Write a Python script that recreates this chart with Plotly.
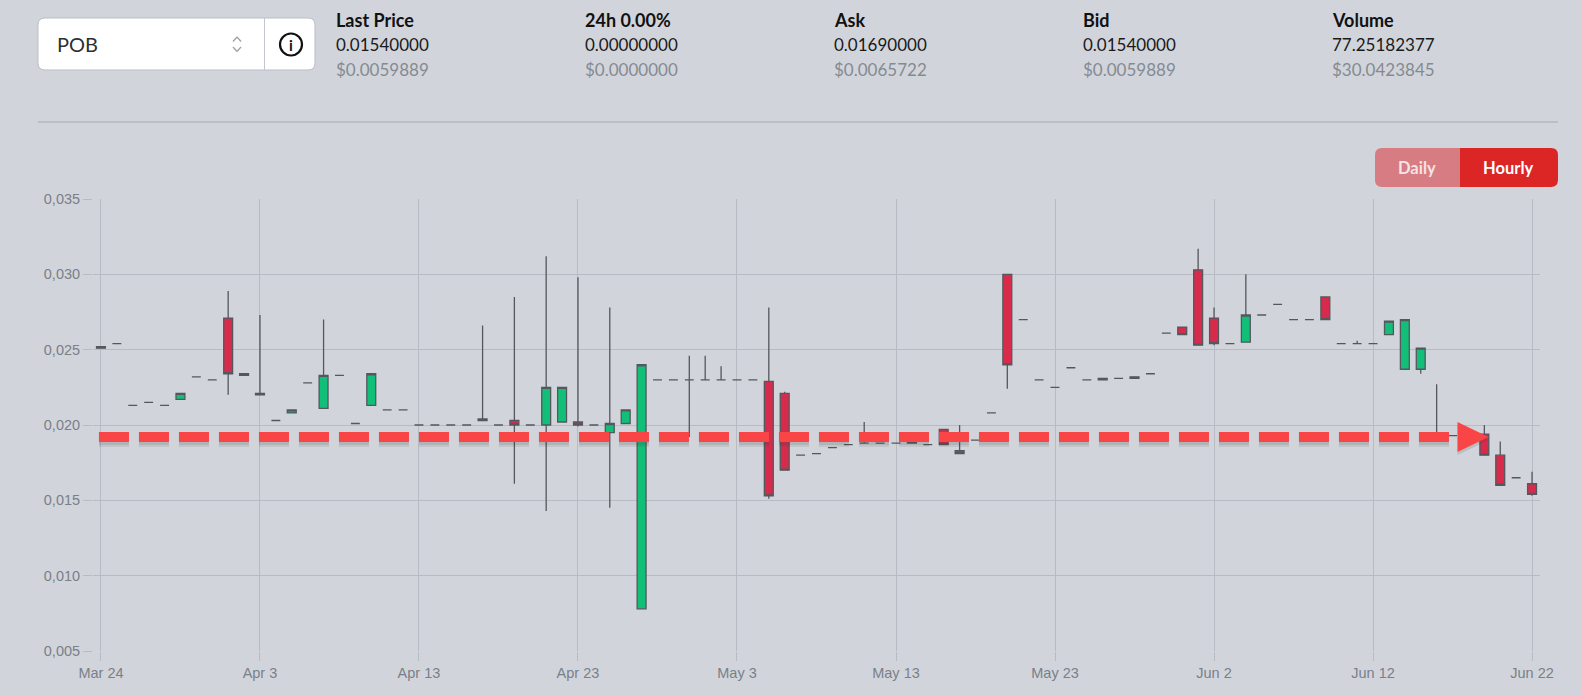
import pandas as pd
import plotly.graph_objects as go

# Daily candles, Mar 24 -> Jun 22
start_day = "2021-03-24"
opens = [
    0.0252, 0.0254, 0.0213, 0.0215, 0.0213, 0.0217, 0.0232, 0.0230, 0.0271, 0.0234,
    0.0221, 0.0203, 0.0208, 0.0228, 0.0211, 0.0233, 0.0201, 0.0213, 0.0210, 0.0210,
    0.0200, 0.0200, 0.0200, 0.0200, 0.0203, 0.0200, 0.0203, 0.0200, 0.0200, 0.0202,
    0.0202, 0.0200, 0.0195, 0.0201, 0.0078, 0.0230, 0.0230, 0.0230, 0.0230, 0.0230,
    0.0230, 0.0230, 0.0229, 0.0221, 0.0180, 0.0181, 0.0185, 0.0187, 0.0188, 0.0188,
    0.0188, 0.0188, 0.0187, 0.0197, 0.0183, 0.0190, 0.0208, 0.0300, 0.0270, 0.0230,
    0.0225, 0.0238, 0.0230, 0.0230, 0.0231, 0.0231, 0.0234, 0.0261, 0.0265, 0.0303,
    0.0271, 0.0254, 0.0255, 0.0273, 0.0280, 0.0270, 0.0270, 0.0285, 0.0254, 0.0254,
    0.0254, 0.0260, 0.0237, 0.0237, 0.0195, 0.0193, 0.0193, 0.0194, 0.0180, 0.0165,
    0.0161,
]
highs = [
    0.0252, 0.0254, 0.0213, 0.0215, 0.0213, 0.0221, 0.0232, 0.0230, 0.0289, 0.0234,
    0.0273, 0.0203, 0.0210, 0.0228, 0.0270, 0.0233, 0.0201, 0.0234, 0.0210, 0.0210,
    0.0200, 0.0200, 0.0200, 0.0200, 0.0266, 0.0200, 0.0285, 0.0200, 0.0312, 0.0225,
    0.0298, 0.0200, 0.0278, 0.0210, 0.0240, 0.0230, 0.0230, 0.0246, 0.0246, 0.0239,
    0.0230, 0.0230, 0.0278, 0.0222, 0.0180, 0.0181, 0.0185, 0.0187, 0.0202, 0.0188,
    0.0188, 0.0189, 0.0187, 0.0197, 0.0200, 0.0190, 0.0208, 0.0300, 0.0270, 0.0230,
    0.0225, 0.0238, 0.0230, 0.0231, 0.0231, 0.0232, 0.0234, 0.0261, 0.0265, 0.0317,
    0.0278, 0.0254, 0.0300, 0.0273, 0.0280, 0.0270, 0.0270, 0.0285, 0.0254, 0.0256,
    0.0254, 0.0269, 0.0270, 0.0251, 0.0227, 0.0193, 0.0193, 0.0200, 0.0189, 0.0165,
    0.0169,
]
lows = [
    0.0251, 0.0254, 0.0213, 0.0215, 0.0213, 0.0217, 0.0232, 0.0230, 0.0220, 0.0233,
    0.0220, 0.0203, 0.0208, 0.0228, 0.0211, 0.0233, 0.0201, 0.0213, 0.0210, 0.0210,
    0.0200, 0.0200, 0.0200, 0.0200, 0.0203, 0.0200, 0.0161, 0.0200, 0.0143, 0.0202,
    0.0199, 0.0200, 0.0145, 0.0201, 0.0078, 0.0230, 0.0230, 0.0192, 0.0230, 0.0230,
    0.0230, 0.0230, 0.0151, 0.0170, 0.0180, 0.0181, 0.0185, 0.0187, 0.0188, 0.0188,
    0.0188, 0.0188, 0.0187, 0.0187, 0.0181, 0.0190, 0.0208, 0.0224, 0.0270, 0.0230,
    0.0225, 0.0238, 0.0230, 0.0230, 0.0231, 0.0231, 0.0234, 0.0261, 0.0260, 0.0253,
    0.0253, 0.0254, 0.0255, 0.0273, 0.0280, 0.0270, 0.0270, 0.0270, 0.0254, 0.0254,
    0.0254, 0.0260, 0.0237, 0.0234, 0.0195, 0.0193, 0.0193, 0.0180, 0.0160, 0.0165,
    0.0153,
]
closes = [
    0.0251, 0.0254, 0.0213, 0.0215, 0.0213, 0.0221, 0.0232, 0.0230, 0.0234, 0.0233,
    0.0220, 0.0203, 0.0210, 0.0228, 0.0233, 0.0233, 0.0201, 0.0234, 0.0210, 0.0210,
    0.0200, 0.0200, 0.0200, 0.0200, 0.0204, 0.0200, 0.0200, 0.0200, 0.0225, 0.0225,
    0.0200, 0.0200, 0.0201, 0.0210, 0.0240, 0.0230, 0.0230, 0.0230, 0.0230, 0.0230,
    0.0230, 0.0230, 0.0153, 0.0170, 0.0180, 0.0181, 0.0185, 0.0187, 0.0188, 0.0188,
    0.0188, 0.0189, 0.0187, 0.0187, 0.0181, 0.0190, 0.0208, 0.0240, 0.0270, 0.0230,
    0.0225, 0.0238, 0.0230, 0.0231, 0.0231, 0.0232, 0.0234, 0.0261, 0.0260, 0.0253,
    0.0254, 0.0254, 0.0273, 0.0273, 0.0280, 0.0270, 0.0270, 0.0270, 0.0254, 0.0254,
    0.0254, 0.0269, 0.0270, 0.0251, 0.0195, 0.0193, 0.0193, 0.0180, 0.0160, 0.0165,
    0.0154,
]
dates = pd.date_range(start_day, periods=len(opens), freq="D")

# Axis ticks
tick_dates = ["2021-03-24", "2021-04-03", "2021-04-13", "2021-04-23", "2021-05-03",
              "2021-05-13", "2021-05-23", "2021-06-02", "2021-06-12", "2021-06-22"]
tick_labels = ["Mar 24", "Apr 3", "Apr 13", "Apr 23", "May 3",
               "May 13", "May 23", "Jun 2", "Jun 12", "Jun 22"]
y_ticks = [0.005, 0.010, 0.015, 0.020, 0.025, 0.030, 0.035]

# Hand-drawn support line overlay
guide_level = 0.0192
guide_start = "2021-03-23 21:00"
guide_end = "2021-06-17 09:00"

# Header ticker info
symbol = "POB"
header_labels = ["Last Price", "24h 0.00%", "Ask", "Bid", "Volume"]
header_values = ["0.01540000", "0.00000000", "0.01690000", "0.01540000", "77.25182377"]
header_usd = ["$0.0059889", "$0.0000000", "$0.0065722", "$0.0059889", "$30.0423845"]

# Page geometry (pixels)
W, H = 1582, 696
ML, MR, MT, MB = 93, 42, 199, 45
PW, PH = W - ML - MR, H - MT - MB
BG = "#d1d5db"
GRID = "#b7bbc3"


def fx(px):
    return (px - ML) / PW


def fy(py):
    return 1 - (py - MT) / PH


def rrect(x0, y0, x1, y1, r, left=True, right=True):
    rl = r if left else 0
    rr = r if right else 0

    def p(x, y):
        return f"{fx(x):.5f},{fy(y):.5f}"

    return (
        f"M{p(x0 + rl, y0)} L{p(x1 - rr, y0)} Q{p(x1, y0)} {p(x1, y0 + rr)} "
        f"L{p(x1, y1 - rr)} Q{p(x1, y1)} {p(x1 - rr, y1)} L{p(x0 + rl, y1)} "
        f"Q{p(x0, y1)} {p(x0, y1 - rl)} L{p(x0, y0 + rl)} Q{p(x0, y0)} {p(x0 + rl, y0)} Z"
    )


fig = go.Figure()

fig.add_trace(
    go.Candlestick(
        x=dates,
        open=opens,
        high=highs,
        low=lows,
        close=closes,
        increasing=dict(fillcolor="#12bf78", line=dict(color="#53585e", width=1.3)),
        decreasing=dict(fillcolor="#d82b4c", line=dict(color="#53585e", width=1.3)),
        whiskerwidth=0,
        showlegend=False,
        hoverinfo="skip",
    )
)

shapes = []

# Select box with symbol + info button
shapes.append(dict(type="path", xref="paper", yref="paper", path=rrect(38, 18, 315, 70, 7),
                   fillcolor="white", line=dict(color="#b9bec6", width=1), layer="above"))
shapes.append(dict(type="line", xref="paper", yref="paper", x0=fx(264.5), x1=fx(264.5),
                   y0=fy(18), y1=fy(70), line=dict(color="#c3c7cd", width=1)))
for a, b in [((233, 41.5), (237, 37)), ((237, 37), (241, 41.5)),
             ((233, 47), (237, 51.5)), ((237, 51.5), (241, 47))]:
    shapes.append(dict(type="line", xref="paper", yref="paper", x0=fx(a[0]), y0=fy(a[1]),
                       x1=fx(b[0]), y1=fy(b[1]), line=dict(color="#9ca2aa", width=1.3)))
shapes.append(dict(type="circle", xref="paper", yref="paper", x0=fx(280), x1=fx(302),
                   y0=fy(33.5), y1=fy(55.5), line=dict(color="#111111", width=2.2)))

# Header separator
shapes.append(dict(type="line", xref="paper", yref="paper", x0=fx(38), x1=fx(1558),
                   y0=fy(122), y1=fy(122), line=dict(color="#a3a8b0", width=1)))

# Daily / Hourly toggle
shapes.append(dict(type="path", xref="paper", yref="paper",
                   path=rrect(1375, 148, 1460, 187, 7, right=False),
                   fillcolor="#d77c82", line=dict(width=0)))
shapes.append(dict(type="path", xref="paper", yref="paper",
                   path=rrect(1460, 148, 1558, 187, 7, left=False),
                   fillcolor="#dc2626", line=dict(width=0)))

# Dashed support line with soft shadow and arrow head
for off, wdt, alpha in [(-4, 12, 0.10), (-3, 10, 0.12)]:
    shapes.append(dict(type="line", xref="x", yref="y", x0=guide_start, x1=guide_end,
                       ysizemode="pixel", yanchor=guide_level, y0=off, y1=off,
                       line=dict(color=f"rgba(60,60,60,{alpha})", width=wdt,
                                 dash="30px,10px")))
shapes.append(dict(type="line", xref="x", yref="y", x0=guide_start, x1=guide_end,
                   y0=guide_level, y1=guide_level,
                   line=dict(color="#f94545", width=10, dash="30px,10px")))
shapes.append(dict(type="path", xref="x", yref="y", xsizemode="pixel", ysizemode="pixel",
                   xanchor=guide_end, yanchor=guide_level,
                   path="M-1,-18 L30,-3 L-1,12 Z", fillcolor="rgba(60,60,60,0.16)",
                   line=dict(width=0)))
shapes.append(dict(type="path", xref="x", yref="y", xsizemode="pixel", ysizemode="pixel",
                   xanchor=guide_end, yanchor=guide_level,
                   path="M-1,-15 L30,0 L-1,15 Z", fillcolor="#f94545",
                   line=dict(width=0)))

annotations = []
annotations.append(dict(text=symbol, x=fx(55), y=fy(44), xref="paper", yref="paper",
                        xanchor="left", yanchor="middle", showarrow=False,
                        font=dict(family="Lato", size=20, color="#2d2f33")))
annotations.append(dict(text="<b>i</b>", x=fx(291), y=fy(44.5), xref="paper", yref="paper",
                        xanchor="center", yanchor="middle", showarrow=False,
                        font=dict(family="Lato", size=15, color="#111111")))
col_x = [334, 583, 832, 1081, 1330]
for i, cx in enumerate(col_x):
    annotations.append(dict(text=f"<b>{header_labels[i]}</b>", x=fx(cx), y=fy(19.5),
                            xref="paper", yref="paper", xanchor="left", yanchor="middle",
                            showarrow=False,
                            font=dict(family="Lato", size=18, color="#111111")))
    annotations.append(dict(text=header_values[i], x=fx(cx), y=fy(44.5),
                            xref="paper", yref="paper", xanchor="left", yanchor="middle",
                            showarrow=False,
                            font=dict(family="Lato", size=17, color="#1a1a1a")))
    annotations.append(dict(text=header_usd[i], x=fx(cx), y=fy(69.5),
                            xref="paper", yref="paper", xanchor="left", yanchor="middle",
                            showarrow=False,
                            font=dict(family="Lato", size=17, color="#858a92")))
annotations.append(dict(text="<b>Daily</b>", x=fx(1417), y=fy(168), xref="paper", yref="paper",
                        xanchor="center", yanchor="middle", showarrow=False,
                        font=dict(family="Lato", size=16.5, color="#f4e4e5")))
annotations.append(dict(text="<b>Hourly</b>", x=fx(1508), y=fy(168), xref="paper", yref="paper",
                        xanchor="center", yanchor="middle", showarrow=False,
                        font=dict(family="Lato", size=16.5, color="#ffffff")))

fig.update_layout(
    width=W,
    height=H,
    margin=dict(l=ML, r=MR, t=MT, b=MB, pad=0),
    paper_bgcolor=BG,
    plot_bgcolor=BG,
    separators=",.",
    boxgap=0.2,
    showlegend=False,
    hovermode=False,
    font=dict(family="Liberation Sans, Arial", size=14, color="#7a7f88"),
    xaxis=dict(
        type="date",
        range=["2021-03-23 12:00", "2021-06-22 12:00"],
        tickvals=tick_dates,
        ticktext=tick_labels,
        showgrid=True,
        gridcolor=GRID,
        gridwidth=1,
        ticks="outside",
        ticklen=9,
        tickcolor=GRID,
        showline=False,
        zeroline=False,
        rangeslider=dict(visible=False),
        tickfont=dict(size=14.5, color="#7a7f88"),
    ),
    yaxis=dict(
        range=[0.005, 0.035],
        tickvals=y_ticks,
        tickformat=".3f",
        showgrid=True,
        gridcolor=GRID,
        gridwidth=1,
        ticks="outside",
        ticklen=9,
        tickcolor=GRID,
        showline=False,
        zeroline=False,
        tickfont=dict(size=14.5, color="#7a7f88"),
    ),
    shapes=shapes,
    annotations=annotations,
)

fig.write_html(
    "out.html",
    config={"displayModeBar": False},
    post_script="document.body.style.margin='0';document.body.style.overflow='hidden';"
    "document.body.style.background='" + BG + "';",
)
